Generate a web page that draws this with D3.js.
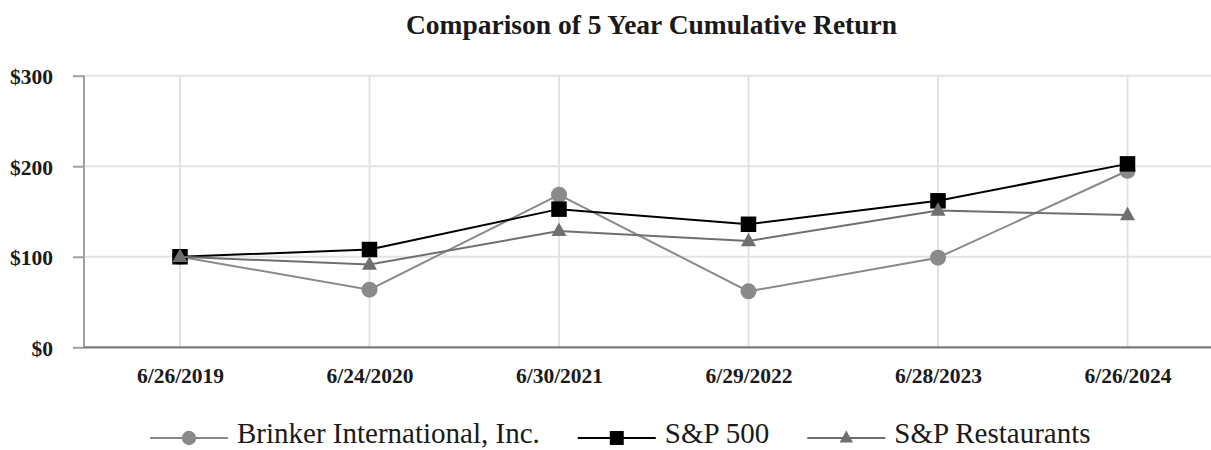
<!DOCTYPE html>
<html>
<head>
<meta charset="utf-8">
<script src="https://cdn.jsdelivr.net/npm/d3@7"></script>
<style>
  html, body { margin: 0; padding: 0; background: #fff; }
  svg { display: block; }
</style>
</head>
<body>
<div id="chart"></div>
<script>
const categories = ["6/26/2019", "6/24/2020", "6/30/2021", "6/29/2022", "6/28/2023", "6/26/2024"];
const brinker = [100, 63.7, 168.5, 61.8, 99, 195];
const sp500 = [100, 108, 152.6, 135.9, 161.8, 202.6];
const spRestaurants = [100, 91.4, 128.5, 117.4, 151, 146];
const yTicks = [0, 100, 200, 300];
const seriesNames = ["Brinker International, Inc.", "S&P 500", "S&P Restaurants"];
const title = "Comparison of 5 Year Cumulative Return";

const W = 1211, H = 450;
const plot = { left: 84, right: 1211, top: 75.7, bottom: 347.3 };

const series = [
  { name: seriesNames[0], values: brinker, color: "#8a8a8a", symbol: "circle" },
  { name: seriesNames[1], values: sp500, color: "#000000", symbol: "square" },
  { name: seriesNames[2], values: spRestaurants, color: "#6f6f6f", symbol: "triangle" }
];

const svg = d3.select("#chart").append("svg").attr("width", W).attr("height", H);

const x = d3.scalePoint().domain(categories).range([180, 1127.5]).padding(0);
const y = d3.scaleLinear().domain([0, 300]).range([plot.bottom, plot.top]);

const serif = "'Liberation Serif', 'Times New Roman', serif";

// Title
svg.append("text")
  .attr("x", 651.5).attr("y", 34)
  .attr("text-anchor", "middle")
  .attr("font-family", serif)
  .attr("font-weight", "bold")
  .attr("font-size", 27.5)
  .attr("fill", "#1a1a1a")
  .text(title);

// Horizontal gridlines
svg.append("g").selectAll("line").data(yTicks.filter(d => d > 0)).join("line")
  .attr("x1", plot.left).attr("x2", plot.right)
  .attr("y1", d => y(d)).attr("y2", d => y(d))
  .attr("stroke", "#e3e3e3").attr("stroke-width", 2);

// Vertical gridlines
svg.append("g").selectAll("line").data(categories).join("line")
  .attr("x1", d => x(d)).attr("x2", d => x(d))
  .attr("y1", plot.top).attr("y2", plot.bottom)
  .attr("stroke", "#e3e3e3").attr("stroke-width", 2);

// Y axis
const yAxis = d3.axisLeft(y).tickValues(yTicks).tickSize(11).tickPadding(20)
  .tickFormat(d => "$" + d);
const gy = svg.append("g").attr("transform", `translate(${plot.left},0)`).call(yAxis);
gy.select(".domain").attr("stroke", "#a0a0a0").attr("stroke-width", 2)
  .attr("d", `M0,${plot.top}V${plot.bottom}`);
gy.selectAll(".tick line").attr("stroke", "#a0a0a0").attr("stroke-width", 2);
gy.selectAll(".tick text")
  .attr("font-family", serif)
  .attr("font-weight", "bold").attr("font-size", 21.5).attr("fill", "#1a1a1a")
  .attr("x", -31).attr("dy", "0.38em");

// X axis
const xAxis = d3.axisBottom(x).tickSize(0).tickPadding(0);
const gx = svg.append("g").attr("transform", `translate(0,${plot.bottom})`).call(xAxis);
gx.select(".domain").attr("stroke", "#7a7a7a").attr("stroke-width", 2.2)
  .attr("d", `M${plot.left},0H${plot.right}`);
gx.selectAll(".tick text")
  .attr("font-family", serif)
  .attr("font-weight", "bold").attr("font-size", 21.5).attr("fill", "#1a1a1a")
  .attr("y", 36).attr("dy", 0);

// Symbols
function drawSymbol(g, type, color, cx, cy, scale) {
  const s = scale || 1;
  if (type === "circle") {
    g.append("circle").attr("cx", cx).attr("cy", cy).attr("r", 8 * s).attr("fill", color);
  } else if (type === "square") {
    const a = 15.5 * s;
    g.append("rect").attr("x", cx - a / 2).attr("y", cy - a / 2).attr("width", a).attr("height", a).attr("fill", color);
  } else {
    const w = 15 * s, h = 13.5 * s;
    g.append("path")
      .attr("d", `M${cx},${cy - h * 0.62}L${cx + w / 2},${cy + h * 0.38}L${cx - w / 2},${cy + h * 0.38}Z`)
      .attr("fill", color);
  }
}

const line = d3.line().x((d, i) => x(categories[i])).y(d => y(d));

series.forEach(s => {
  const g = svg.append("g");
  g.append("path").datum(s.values).attr("d", line)
    .attr("fill", "none").attr("stroke", s.color).attr("stroke-width", 2);
  s.values.forEach((v, i) => drawSymbol(g, s.symbol, s.color, x(categories[i]), y(v), 1));
});

// Legend
const legend = svg.append("g");
let lx = 150;
const ly = 438;
series.forEach(s => {
  legend.append("line").attr("x1", lx).attr("x2", lx + 78).attr("y1", ly).attr("y2", ly)
    .attr("stroke", s.color).attr("stroke-width", 2);
  drawSymbol(legend, s.symbol, s.color, lx + 39, ly, 0.9);
  const t = legend.append("text")
    .attr("x", lx + 87).attr("y", ly + 5)
    .attr("font-family", serif)
    .attr("font-size", 29).attr("fill", "#1a1a1a")
    .text(s.name);
  lx = lx + 87 + t.node().getComputedTextLength() + 38;
});
</script>
</body>
</html>
